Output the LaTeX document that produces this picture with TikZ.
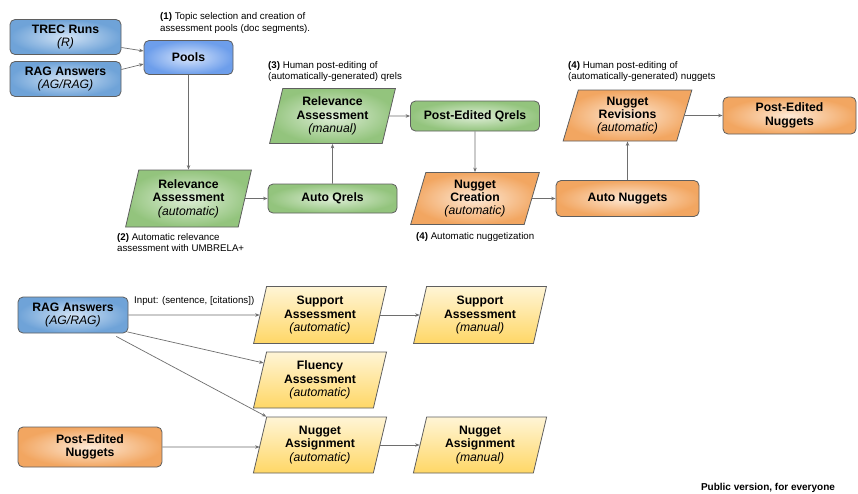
\documentclass[tikz,border=0pt]{standalone}
\usepackage{fontspec}
\setmainfont{Liberation Sans}
\usetikzlibrary{shapes.geometric,arrows.meta,calc}

\definecolor{edge}{HTML}{5F5F5F}
\definecolor{wire}{HTML}{6E6E6E}
\definecolor{blueout}{HTML}{6FA3D8}
\definecolor{bluein}{HTML}{D2E3F5}
\definecolor{poolout}{HTML}{6D9EEB}
\definecolor{poolin}{HTML}{D8E5FB}
\definecolor{greenout}{HTML}{93C47D}
\definecolor{greenin}{HTML}{DFEED8}
\definecolor{orangeout}{HTML}{F2A661}
\definecolor{orangein}{HTML}{FDE9D6}
\definecolor{yellowtop}{HTML}{FFF5D6}
\definecolor{yellowbot}{HTML}{FFD766}

\newcommand{\subline}[1]{{\mdseries\itshape #1}}

\tikzset{
  boxtext/.style={font=\fontsize{12.2}{13.4}\selectfont\bfseries, align=center, text=black},
  rbox/.style={boxtext, draw=edge, line width=0.8pt, rounded corners=5pt, inner sep=0pt},
  slanted/.style={boxtext, draw=edge, line width=0.8pt, trapezium,
    trapezium left angle=76, trapezium right angle=104,
    trapezium stretches=true, inner sep=0pt},
  bluefill/.style={shading=radial, inner color=bluein, outer color=blueout},
  poolfill/.style={shading=radial, inner color=poolin, outer color=poolout},
  greenfill/.style={shading=radial, inner color=greenin, outer color=greenout},
  orangefill/.style={shading=radial, inner color=orangein, outer color=orangeout},
  yellowfill/.style={top color=yellowtop, bottom color=yellowbot},
  note/.style={font=\fontsize{9.7}{11.6}\selectfont, align=left, anchor=west, inner sep=0pt},
  arr/.style={draw=wire, line width=0.7pt, -{Stealth[length=4.5pt,width=3.5pt]}},
}

\begin{document}
\begin{tikzpicture}[x=1pt,y=-1pt]
\fill[white] (0,0) rectangle (858,493);
\useasboundingbox (0,0) rectangle (858,493);

% --- upper pipeline: pools, qrels and nuggets ---
\node[rbox, bluefill, minimum width=111, minimum height=35] (trec) at (65.5,37) {TREC Runs\\\subline{(R)}};
\node[rbox, bluefill, minimum width=111, minimum height=35] (rag1) at (65.5,79) {RAG Answers\\\subline{(AG/RAG)}};
\node[rbox, poolfill, minimum width=89, minimum height=34] (pools) at (188.5,57.5) {Pools};

\node[slanted, greenfill, minimum width=127, minimum height=57] (relauto) at (188.5,198.5) {Relevance\\Assessment\\\subline{(automatic)}};
\node[rbox, greenfill, minimum width=129, minimum height=29] (autoq) at (332.5,198.5) {Auto Qrels};
\node[slanted, greenfill, minimum width=127, minimum height=55] (relman) at (332.5,116) {Relevance\\Assessment\\\subline{(manual)}};
\node[rbox, greenfill, minimum width=129, minimum height=30] (peq) at (475,116) {Post-Edited Qrels};

\node[slanted, orangefill, minimum width=129, minimum height=52] (ncr) at (475,198.5) {Nugget\\Creation\\\subline{(automatic)}};
\node[rbox, orangefill, minimum width=143, minimum height=36] (autonug) at (627.5,198.5) {Auto Nuggets};
\node[slanted, orangefill, minimum width=129, minimum height=51] (nrev) at (627.5,115.5) {Nugget\\Revisions\\\subline{(automatic)}};
\node[rbox, orangefill, minimum width=133, minimum height=37] (pen1) at (789.5,115.5) {Post-Edited\\Nuggets};

\node[note] (ann1) at (160,23) {\textbf{(1)} Topic selection and creation of\\assessment pools (doc segments).};
\node[note] (ann3) at (268,71.5) {\textbf{(3)} Human post-editing of\\(automatically-generated) qrels};
\node[note] (ann4a) at (568,71.5) {\textbf{(4)} Human post-editing of\\(automatically-generated) nuggets};
\node[note] (ann2) at (117,242.5) {\textbf{(2)} Automatic relevance\\assessment with UMBRELA+};
\node[note] (ann4b) at (416,237) {\textbf{(4)} Automatic nuggetization};

\draw[arr] ([yshift=-10.5pt]trec.east) -- ([yshift=6.5pt]pools.west);
\draw[arr] ([yshift=9.5pt]rag1.east) -- ([yshift=-6.5pt]pools.west);
\draw[arr] (pools.south) -- (relauto.north);
\draw[arr] (relauto.east) -- (autoq.west);
\draw[arr] (autoq.north) -- (relman.south);
\draw[arr] (relman.east) -- (peq.west);
\draw[arr] (peq.south) -- (ncr.north);
\draw[arr] (ncr.east) -- (autonug.west);
\draw[arr] (autonug.north) -- (nrev.south);
\draw[arr] (nrev.east) -- (pen1.west);

% --- lower pipeline: answer evaluation ---
\tikzset{slanted/.append style={trapezium left angle=77, trapezium right angle=103}}
\node[rbox, bluefill, minimum width=110, minimum height=36] (rag2) at (73,315) {RAG Answers\\\subline{(AG/RAG)}};
\node[slanted, yellowfill, minimum width=134, minimum height=57] (supa) at (320,315) {Support\\Assessment\\\subline{(automatic)}};
\node[slanted, yellowfill, minimum width=134, minimum height=57] (supm) at (480,315) {Support\\Assessment\\\subline{(manual)}};
\node[slanted, yellowfill, minimum width=134, minimum height=56] (flu) at (320,380) {Fluency\\Assessment\\\subline{(automatic)}};
\node[slanted, yellowfill, minimum width=134, minimum height=56] (nasa) at (320,445) {Nugget\\Assignment\\\subline{(automatic)}};
\node[slanted, yellowfill, minimum width=134, minimum height=56] (nasm) at (480,445) {Nugget\\Assignment\\\subline{(manual)}};
\node[rbox, orangefill, minimum width=144, minimum height=40] (pen2) at (90,447) {Post-Edited\\Nuggets};

\node[note] (inlbl) at (134,300.5) {Input: (sentence, [citations])};

\draw[arr] (rag2.east) -- (supa.west);
\draw[arr] ([xshift=-1pt,yshift=1.5pt]rag2.south east) -- ($(flu.top left corner)!0.2!(flu.bottom left corner)$);
\draw[arr] ([yshift=-3pt]$(rag2.south)!0.78!(rag2.south east)$) -- (nasa.top left corner);
\draw[arr] (pen2.east) -- ([yshift=-2pt]nasa.west);
\draw[arr] (supa.east) -- (supm.west);
\draw[arr] (nasa.east) -- (nasm.west);

\node[font=\fontsize{10}{12}\selectfont\bfseries, inner sep=0pt] (pubnote) at (768,487.5) {Public version, for everyone};
\end{tikzpicture}
\end{document}
